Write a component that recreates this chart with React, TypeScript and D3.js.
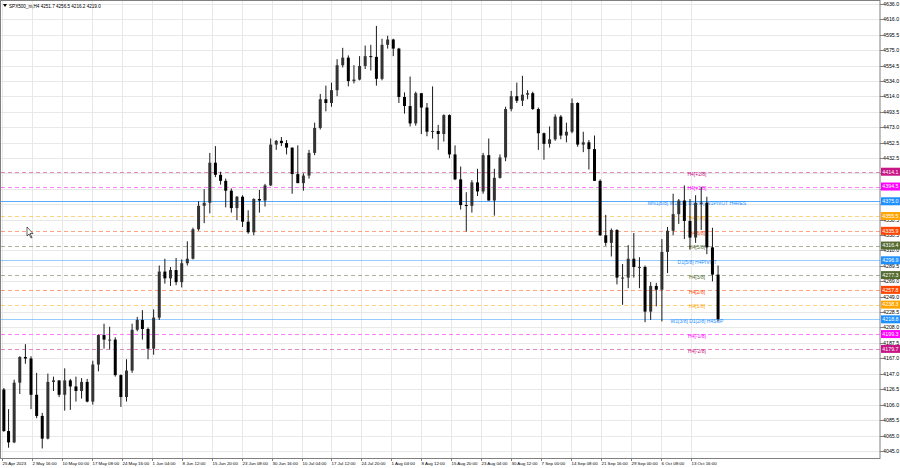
import { useEffect, useRef } from 'react';
import * as d3 from 'd3';

// daily bars of SPX500_m (each day spans its H4 slots)
const dates = [
  '25 Apr', '26 Apr', '27 Apr', '28 Apr', '1 May', '2 May', '3 May', '4 May', '5 May',
  '8 May', '9 May', '10 May', '11 May', '12 May', '15 May', '16 May', '17 May', '18 May', '19 May',
  '22 May', '23 May', '24 May', '25 May', '26 May', '29 May', '30 May', '31 May', '1 Jun', '2 Jun',
  '5 Jun', '6 Jun', '7 Jun', '8 Jun', '9 Jun', '12 Jun', '13 Jun', '14 Jun', '15 Jun', '16 Jun',
  '19 Jun', '20 Jun', '21 Jun', '22 Jun', '23 Jun', '26 Jun', '27 Jun', '28 Jun', '29 Jun', '30 Jun',
  '3 Jul', '4 Jul', '5 Jul', '6 Jul', '7 Jul', '10 Jul', '11 Jul', '12 Jul', '13 Jul', '14 Jul',
  '17 Jul', '18 Jul', '19 Jul', '20 Jul', '21 Jul', '24 Jul', '25 Jul', '26 Jul', '27 Jul', '28 Jul',
  '31 Jul', '1 Aug', '2 Aug', '3 Aug', '4 Aug', '7 Aug', '8 Aug', '9 Aug', '10 Aug', '11 Aug',
  '14 Aug', '15 Aug', '16 Aug', '17 Aug', '18 Aug', '21 Aug', '22 Aug', '23 Aug', '24 Aug', '25 Aug',
  '28 Aug', '29 Aug', '30 Aug', '31 Aug', '1 Sep', '4 Sep', '5 Sep', '6 Sep', '7 Sep', '8 Sep',
  '11 Sep', '12 Sep', '13 Sep', '14 Sep', '15 Sep', '18 Sep', '19 Sep', '20 Sep', '21 Sep', '22 Sep',
  '25 Sep', '26 Sep', '27 Sep', '28 Sep', '29 Sep', '2 Oct', '3 Oct', '4 Oct', '5 Oct', '6 Oct',
  '9 Oct', '10 Oct', '11 Oct', '12 Oct', '13 Oct', '16 Oct', '17 Oct', '18 Oct', '19 Oct', '20 Oct',
];
const highs = [
  4128, 4100, 4139, 4170, 4186, 4170, 4148, 4095, 4147,
  4143, 4138, 4154, 4140, 4143, 4141, 4140, 4164, 4199, 4213,
  4209, 4195, 4146, 4166, 4213, 4222, 4231, 4208, 4232, 4290,
  4299, 4288, 4300, 4298, 4322, 4340, 4375, 4391, 4439, 4448,
  4414, 4405, 4392, 4382, 4383, 4363, 4379, 4390, 4398, 4458,
  4456, 4460, 4456, 4446, 4449, 4412, 4443, 4479, 4517, 4528,
  4532, 4563, 4578, 4568, 4555, 4567, 4581, 4582, 4607, 4590,
  4594, 4590, 4578, 4519, 4540, 4520, 4518, 4505, 4527, 4476,
  4490, 4490, 4449, 4421, 4387, 4403, 4418, 4439, 4458, 4418,
  4437, 4500, 4521, 4532, 4541, 4522, 4520, 4499, 4466, 4474,
  4490, 4489, 4479, 4511, 4506, 4467, 4456, 4462, 4404, 4357,
  4339, 4338, 4292, 4317, 4333, 4301, 4290, 4268, 4267, 4325,
  4341, 4385, 4378, 4396, 4378, 4383, 4394, 4381, 4340, 4290,
];
const lows = [
  4070, 4049, 4055, 4120, 4160, 4100, 4088, 4048, 4060,
  4124, 4116, 4098, 4099, 4110, 4114, 4109, 4106, 4150, 4180,
  4179, 4143, 4103, 4110, 4148, 4203, 4192, 4166, 4172, 4218,
  4266, 4263, 4264, 4261, 4290, 4298, 4336, 4346, 4359, 4407,
  4397, 4367, 4360, 4350, 4341, 4332, 4330, 4360, 4368, 4395,
  4443, 4448, 4437, 4385, 4399, 4389, 4405, 4436, 4470, 4494,
  4500, 4514, 4552, 4527, 4531, 4535, 4550, 4548, 4528, 4535,
  4577, 4567, 4505, 4491, 4474, 4475, 4464, 4461, 4458, 4443,
  4454, 4432, 4403, 4364, 4335, 4360, 4382, 4385, 4376, 4356,
  4405, 4428, 4494, 4505, 4501, 4510, 4496, 4443, 4430, 4446,
  4455, 4457, 4453, 4465, 4447, 4440, 4417, 4402, 4329, 4316,
  4302, 4265, 4238, 4260, 4274, 4260, 4215, 4218, 4236, 4216,
  4280, 4330, 4345, 4325, 4311, 4320, 4337, 4305, 4269, 4216,
];
const closes = [
  4071, 4056, 4135, 4169, 4167, 4119, 4091, 4061, 4136,
  4138, 4119, 4138, 4130, 4124, 4136, 4110, 4159, 4198, 4192,
  4192, 4145, 4116, 4151, 4205, 4218, 4206, 4180, 4221, 4282,
  4273, 4284, 4268, 4293, 4299, 4338, 4369, 4373, 4426, 4410,
  4402, 4389, 4366, 4381, 4348, 4334, 4378, 4376, 4396, 4450,
  4455, 4452, 4446, 4411, 4399, 4409, 4439, 4472, 4510, 4505,
  4522, 4555, 4565, 4534, 4536, 4554, 4567, 4566, 4537, 4582,
  4589, 4577, 4513, 4501, 4478, 4518, 4499, 4467, 4468, 4464,
  4489, 4437, 4404, 4370, 4369, 4400, 4388, 4436, 4376, 4406,
  4433, 4497, 4514, 4508, 4516, 4518, 4497, 4465, 4451, 4457,
  4487, 4462, 4467, 4505, 4450, 4453, 4444, 4402, 4330, 4320,
  4337, 4274, 4274, 4299, 4288, 4288, 4229, 4263, 4258, 4308,
  4336, 4358, 4376, 4349, 4327, 4373, 4373, 4314, 4278, 4219,
];
const firstOpen = 4126;
// sessions with one H4 bar missing
const shortDays = ['29 May', '19 Jun', '4 Jul', '4 Sep'];

// time axis: one label every 32 H4 bars
const timeLabels = [
  '25 Apr 2023', '2 May 16:00', '10 May 00:00', '17 May 08:00', '24 May 16:00', '1 Jun 04:00',
  '8 Jun 12:00', '15 Jun 20:00', '23 Jun 08:00', '30 Jun 16:00', '10 Jul 04:00', '17 Jul 12:00',
  '24 Jul 20:00', '1 Aug 04:00', '8 Aug 12:00', '15 Aug 20:00', '23 Aug 04:00', '30 Aug 12:00',
  '7 Sep 00:00', '14 Sep 08:00', '21 Sep 16:00', '29 Sep 00:00', '6 Oct 08:00', '13 Oct 16:00',
];
const priceTicks = [
  4636.0, 4616.0, 4595.5, 4575.0, 4554.5, 4534.0, 4514.0, 4493.5, 4473.0, 4452.5,
  4432.5, 4412.0, 4391.5, 4371.0, 4350.5, 4330.5, 4310.0, 4289.5, 4269.0, 4249.0,
  4228.5, 4208.0, 4187.5, 4167.0, 4147.0, 4126.5, 4106.0, 4085.5, 4065.0, 4045.0,
];

// Murrey-style levels
const levelPrices = [4414.1, 4394.5, 4375.0, 4355.5, 4335.9, 4316.4, 4296.9, 4277.3, 4257.8, 4238.3, 4218.8, 4199.3, 4179.7];
const levelNames = [
  'H4[+2/8]', 'H4[+1/8]', 'MN1[6/8] W1[6/8] D1[7/8] W1PIVOT H4RES', 'H4[7/8]', 'H4[6/8]', 'H4[5/8]',
  'D1[5/8] H4PIVOT', 'H4[3/8]', 'H4[2/8]', 'H4[1/8]', 'W1[3/8] D1[2/8] H4SUP', 'H4[-1/8]', 'H4[-2/8]',
];
const levelColors = [
  '#c71585', '#ff00ff', '#1e90ff', '#ffa500', '#ff4500', '#556b2f', '#1e90ff',
  '#556b2f', '#ff4500', '#ffa500', '#1e90ff', '#ff00ff', '#c71585',
];
const levelSolid = [false, false, true, false, false, false, true, false, false, false, true, false, false];

const header = 'SPX500_m,H4  4251.7 4256.5 4216.2 4219.0';

export default function App() {
  const ref = useRef<SVGSVGElement | null>(null);

  useEffect(() => {
    document.body.style.margin = '0';
    if (!ref.current) return;
    const svg = d3.select(ref.current);
    svg.selectAll('*').remove();

    const plotL = 1;
    const plotR = 880;
    const plotT = 0;
    const plotB = 458;
    const font = "'Liberation Sans', Arial, sans-serif";

    // x in H4-bar units, y in price
    const x = d3.scaleLinear().domain([0, 938]).range([2, plotR]);
    const y = d3.scaleLinear().domain([4045, 4636]).range([450.7, 4]);

    svg.append('rect').attr('width', 900).attr('height', 468).attr('fill', '#fff');

    // grid
    const grid = svg.append('g');
    timeLabels.forEach((_, k) => {
      const gx = Math.round(x(k * 32)) + 0.5;
      grid.append('line')
        .attr('x1', gx).attr('x2', gx).attr('y1', plotT).attr('y2', plotB)
        .attr('stroke', '#e8e8e8').attr('stroke-width', 1);
    });
    priceTicks.forEach((p) => {
      const gy = Math.round(y(p)) + 0.5;
      grid.append('line')
        .attr('x1', plotL).attr('x2', plotR).attr('y1', gy).attr('y2', gy)
        .attr('stroke', '#e8e8e8').attr('stroke-width', 1);
    });

    // level lines (the main pivot line is drawn stronger)
    const lv = svg.append('g');
    levelPrices.forEach((p, i) => {
      const ly = Math.round(y(p)) + 0.5;
      lv.append('line')
        .attr('x1', plotL).attr('x2', plotR).attr('y1', ly).attr('y2', ly)
        .attr('stroke', levelColors[i])
        .attr('stroke-opacity', i === 2 ? 0.75 : levelSolid[i] ? 0.45 : 0.5)
        .attr('stroke-width', 1)
        .attr('stroke-dasharray', levelSolid[i] ? null : '4,3');
    });

    // bars
    let h = 0;
    const bars = dates.map((d, i) => {
      const n = i === 0 ? 4 : shortDays.includes(d) ? 5 : 6;
      const start = h;
      h += n;
      const open = i === 0 ? firstOpen : closes[i - 1];
      return { mid: start + n / 2, open, high: highs[i], low: lows[i], close: closes[i] };
    });
    const bg = svg.append('g');
    bars.forEach((b) => {
      const cx = x(b.mid);
      bg.append('line')
        .attr('x1', cx).attr('x2', cx)
        .attr('y1', y(Math.max(b.high, b.open))).attr('y2', y(Math.min(b.low, b.open)))
        .attr('stroke', '#1a1a1a').attr('stroke-width', 1);
      const top = y(Math.max(b.open, b.close));
      const bot = y(Math.min(b.open, b.close));
      bg.append('rect')
        .attr('x', cx - 1.5).attr('width', 3)
        .attr('y', top).attr('height', Math.max(1, bot - top))
        .attr('fill', b.close >= b.open ? '#333' : '#000');
    });

    // level names
    levelPrices.forEach((p, i) => {
      lv.append('text')
        .attr('x', 697).attr('y', y(p) + 2.5)
        .attr('text-anchor', 'middle').attr('dominant-baseline', 'middle')
        .attr('font-family', font).attr('font-size', 5)
        .attr('fill', levelColors[i])
        .text(levelNames[i]);
    });

    // frame
    svg.append('rect')
      .attr('x', plotL - 0.5).attr('y', plotT + 0.5)
      .attr('width', plotR - plotL + 0.5).attr('height', plotB - plotT)
      .attr('fill', 'none').attr('stroke', '#808080').attr('stroke-width', 1);

    // price axis; labels sitting right under a level box are hidden in the original
    const pa = svg.append('g').attr('font-family', font).attr('font-size', 5.3).attr('fill', '#000');
    priceTicks.forEach((p) => {
      const ty = Math.round(y(p)) + 0.5;
      pa.append('line').attr('x1', plotR).attr('x2', plotR + 3).attr('y1', ty).attr('y2', ty)
        .attr('stroke', '#808080');
      const covered = levelPrices.some((lp) => Math.abs(y(lp) - ty) < 3.5);
      if (!covered) pa.append('text').attr('x', plotR + 3).attr('y', ty + 1.9).text(p.toFixed(1));
    });
    levelPrices.forEach((p, i) => {
      const by = y(p);
      pa.append('rect').attr('x', plotR + 1).attr('y', by - 4).attr('width', 19).attr('height', 8)
        .attr('fill', levelColors[i]);
      pa.append('text').attr('x', plotR + 2.3).attr('y', by + 1.9).attr('fill', '#fff').text(p.toFixed(1));
    });

    // time axis
    const ta = svg.append('g').attr('font-family', font).attr('font-size', 4.4).attr('fill', '#000');
    timeLabels.forEach((t, k) => {
      const tx = Math.round(x(k * 32)) + 0.5;
      ta.append('line').attr('x1', tx).attr('x2', tx).attr('y1', plotB).attr('y2', plotB + 3)
        .attr('stroke', '#808080');
      ta.append('text').attr('x', tx).attr('y', 465).text(t);
    });

    // header
    svg.append('path').attr('d', 'M3,4 L7,4 L5,7 Z').attr('fill', '#000');
    svg.append('text').attr('x', 9).attr('y', 8)
      .attr('font-family', font).attr('font-size', 4.6).attr('fill', '#000')
      .text(header);

    // mouse pointer left in the screenshot
    svg.append('path')
      .attr('d', 'M27,227 L27,236 L29,234 L31,238 L32,237.5 L30,233.5 L33,233.5 Z')
      .attr('fill', '#fff').attr('stroke', '#000').attr('stroke-width', 0.6);
  }, []);

  return <svg ref={ref} width={900} height={468} style={{ display: 'block' }} />;
}
